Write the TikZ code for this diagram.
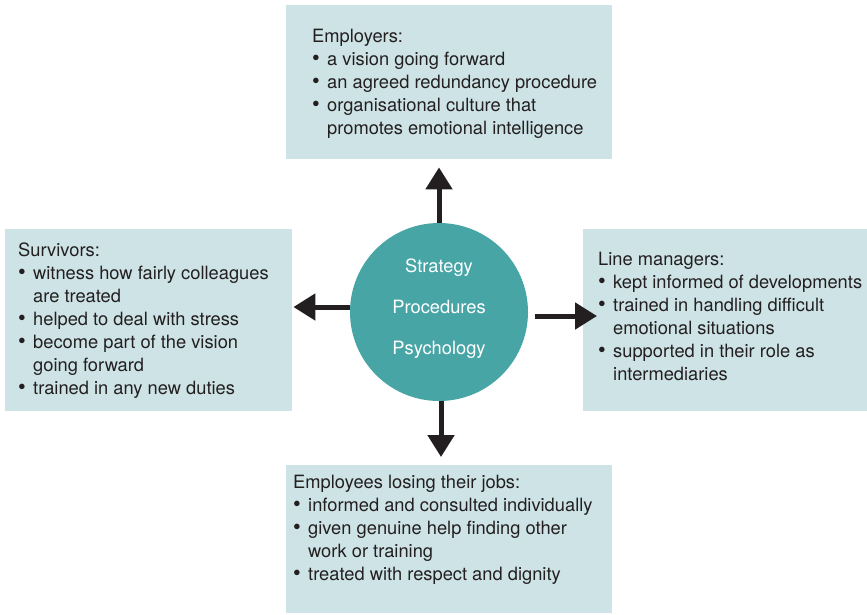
\documentclass[tikz,border=0pt]{standalone}
\usepackage{fontspec}
\setmainfont{TeX Gyre Heros}
\usepackage{tikz}
\usetikzlibrary{arrows.meta, positioning}
\definecolor{BoxColor}{RGB}{205,227,229}
\definecolor{CoreColor}{RGB}{72,165,166}
\definecolor{InkColor}{RGB}{35,31,32}
\newcommand{\bulitem}{\makebox[15pt][l]{\raisebox{-0.5pt}{\fontsize{22}{23}\selectfont•}}}
\newcommand{\bulcont}{\hspace*{15pt}}

\begin{document}
\begin{tikzpicture}[x=1pt, y=-1pt,
        panel/.style={fill=BoxColor, inner sep=0pt, anchor=north west},
        panetext/.style={anchor=base west, align=left, inner sep=0pt, text=InkColor, font=\fontsize{18.3}{23}\selectfont},
        core/.style={circle, fill=CoreColor, minimum size=178pt, inner sep=0pt, align=center, text=white, font=\fontsize{18.3}{41}\selectfont},
        arrow/.style={line width=5pt, InkColor, -{Triangle[length=22pt, width=26pt]}}
    ]
        \useasboundingbox (0,0) rectangle (867,614);

        % panels
        \node[panel, minimum width=326pt, minimum height=154pt] (employers) at (286,5) {};
        \node[panel, minimum width=287pt, minimum height=182pt] (survivors) at (5,229) {};
        \node[panel, minimum width=284pt, minimum height=182pt] (managers) at (583,229) {};
        \node[panel, minimum width=326pt, minimum height=148pt] (employees) at (286,465) {};

        % texts, placed at the baseline of their last line
        \node[panetext] (employerstext) at (312,134) {
            Employers:\\
            \bulitem a vision going forward\\
            \bulitem an agreed redundancy procedure\\
            \bulitem organisational culture that\\
            \bulcont promotes emotional intelligence
        };
        \node[panetext] (survivorstext) at (18,394) {
            Survivors:\\
            \bulitem witness how fairly colleagues\\
            \bulcont are treated\\
            \bulitem helped to deal with stress\\
            \bulitem become part of the vision\\
            \bulcont going forward\\
            \bulitem trained in any new duties
        };
        \node[panetext] (managerstext) at (598,380) {
            Line managers:\\
            \bulitem kept informed of developments\\
            \bulitem trained in handling difficult\\
            \bulcont emotional situations\\
            \bulitem supported in their role as\\
            \bulcont intermediaries
        };
        \node[panetext] (employeestext) at (293,580) {
            Employees losing their jobs:\\
            \bulitem informed and consulted individually\\
            \bulitem given genuine help finding other\\
            \bulcont work or training\\
            \bulitem treated with respect and dignity
        };

        % centre
        \node[core] (core) at (439,312) {Strategy\\Procedures\\Psychology\rule[-10pt]{0pt}{10pt}};

        \draw[arrow, shorten >=8pt] (core.north) -- (core.north |- employers.south);
        \draw[arrow, shorten >=1pt] ([yshift=5pt]core.west) -- ([yshift=5pt]core.west -| survivors.east);
        \draw[arrow, shorten >=-7pt] ([xshift=7pt, yshift=-4pt]core.east) -- ([xshift=7pt, yshift=-4pt]core.east -| managers.west);
        \draw[arrow, shorten >=8pt] ([xshift=2pt]core.south) -- ([xshift=2pt]core.south |- employees.north);
    \end{tikzpicture}
\end{document}
